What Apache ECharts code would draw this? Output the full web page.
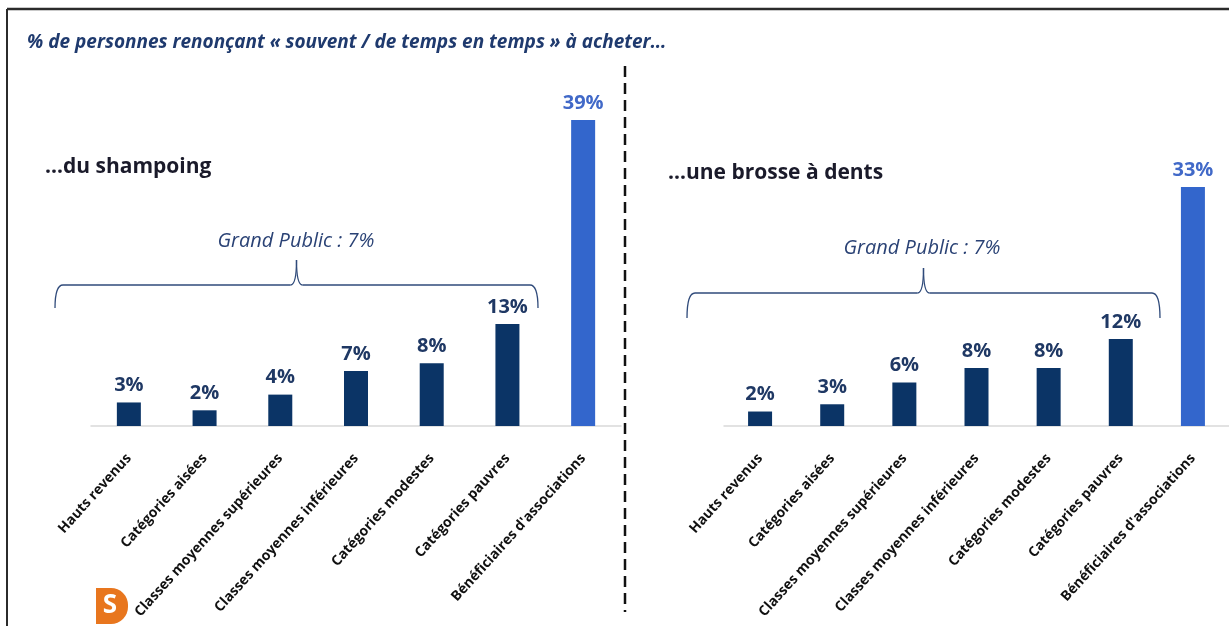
<!DOCTYPE html>
<html>
<head>
<meta charset="utf-8">
<script src="https://cdn.jsdelivr.net/npm/echarts@6/dist/echarts.min.js"></script>
<style>
  html, body { margin: 0; padding: 0; background: #fff; }
  #myEcharts { width: 1229px; height: 626px; }
</style>
</head>
<body>
<div id="myEcharts"></div>
<script>
// categories (same for both panels)
const categories = [
  'Hauts revenus',
  'Catégories aisées',
  'Classes moyennes supérieures',
  'Classes moyennes inférieures',
  'Catégories modestes',
  'Catégories pauvres',
  "Bénéficiaires d'associations"
];
// % renonçant à acheter
const shampoing = [3, 2, 4, 7, 8, 13, 39];
const brosse = [2, 3, 6, 8, 8, 12, 33];
const highlightIdx = 6;

const NAVY = '#0b3466';
const BLUE = '#3366cc';
const LABEL_NAVY = '#1f3864';
const LABEL_BLUE = '#4169c8';
const FONT = '"Open Sans"';

var chartDom = document.getElementById('myEcharts');
var myChart = echarts.init(chartDom);

function barData(values) {
  return values.map(function (v, i) {
    var hi = i === highlightIdx;
    return {
      value: v,
      itemStyle: { color: hi ? BLUE : NAVY },
      label: { color: hi ? LABEL_BLUE : LABEL_NAVY }
    };
  });
}

// accolade horizontale : 4 courbes + 2 segments
function brace(x1, x2, yBar, yEnd, yTip) {
  var xm = (x1 + x2) / 2;
  var st = { stroke: '#2f4a7a', lineWidth: 1.3, fill: null };
  var q = function (ax, ay, bx, by, cx, cy) {
    return { type: 'bezierCurve', shape: { x1: ax, y1: ay, x2: bx, y2: by, cpx1: cx, cpy1: cy }, style: st };
  };
  var l = function (ax, ay, bx, by) {
    return { type: 'line', shape: { x1: ax, y1: ay, x2: bx, y2: by }, style: st };
  };
  return [
    q(x1, yEnd, x1 + 8, yBar, x1, yBar),
    l(x1 + 8, yBar, xm - 6, yBar),
    q(xm - 6, yBar, xm, yTip, xm, yBar),
    q(xm, yTip, xm + 6, yBar, xm, yBar),
    l(xm + 6, yBar, x2 - 8, yBar),
    q(x2 - 8, yBar, x2, yEnd, x2, yBar)
  ];
}

var xAxisBase = {
  type: 'category',
  data: categories,
  axisTick: { show: false },
  axisLine: { lineStyle: { color: '#d9d9d9', width: 1.5 } },
  axisLabel: {
    rotate: 48,
    interval: 0,
    margin: 30,
    color: '#111',
    fontFamily: FONT,
    fontWeight: 'bold',
    fontSize: 14
  }
};

var seriesBase = {
  type: 'bar',
  barWidth: 24,
  label: {
    show: true,
    position: 'top',
    distance: 7,
    formatter: '{c}%',
    fontFamily: FONT,
    fontWeight: 'bold',
    fontSize: 20
  }
};

var graphics = [
  // cadre
  { type: 'line', shape: { x1: 7, y1: 9, x2: 1229, y2: 9 }, style: { stroke: '#2b2b2b', lineWidth: 2.5 } },
  { type: 'line', shape: { x1: 7, y1: 9, x2: 7, y2: 626 }, style: { stroke: '#2b2b2b', lineWidth: 2 } },
  // titre
  {
    type: 'text', x: 27, y: 43,
    style: {
      text: '% de personnes renonçant « souvent / de temps en temps » à acheter…',
      fill: '#1f3a6e', font: 'italic bold 19px ' + FONT, verticalAlign: 'middle'
    }
  },
  // séparateur
  { type: 'line', shape: { x1: 625, y1: 66, x2: 625, y2: 612 }, style: { stroke: '#111', lineWidth: 2.5, lineDash: [11, 6] } },
  // sous-titres
  { type: 'text', x: 45, y: 167, style: { text: '…du shampoing', fill: '#1a1a2a', font: 'bold 21px ' + FONT, verticalAlign: 'middle' } },
  { type: 'text', x: 668, y: 173, style: { text: '…une brosse à dents', fill: '#1a1a2a', font: 'bold 21px ' + FONT, verticalAlign: 'middle' } },
  // Grand Public
  { type: 'text', x: 296, y: 241, style: { text: 'Grand Public : 7%', fill: '#2a4275', font: 'italic 20px ' + FONT, align: 'center', verticalAlign: 'middle' } },
  { type: 'text', x: 922, y: 248, style: { text: 'Grand Public : 7%', fill: '#2a4275', font: 'italic 20px ' + FONT, align: 'center', verticalAlign: 'middle' } },
  // logo
  { type: 'rect', shape: { x: 96, y: 588, width: 32, height: 36, r: [0, 17, 17, 0] }, style: { fill: '#e8761e' } },
  { type: 'text', x: 110, y: 606, style: { text: 'S', fill: '#fff', font: 'bold 26px ' + FONT, align: 'center', verticalAlign: 'middle' } }
].concat(brace(55, 538, 285, 308, 260), brace(687, 1160, 293, 318, 268));

var option = {
  animation: false,
  backgroundColor: '#fff',
  grid: [
    { left: 91, width: 530, top: 120, height: 306 },
    { left: 724, width: 518, top: 187, height: 239 }
  ],
  xAxis: [
    Object.assign({ gridIndex: 0 }, xAxisBase),
    Object.assign({ gridIndex: 1 }, xAxisBase)
  ],
  yAxis: [
    { type: 'value', gridIndex: 0, min: 0, max: 39, show: false },
    { type: 'value', gridIndex: 1, min: 0, max: 33, show: false }
  ],
  series: [
    Object.assign({}, seriesBase, { xAxisIndex: 0, yAxisIndex: 0, data: barData(shampoing) }),
    Object.assign({}, seriesBase, { xAxisIndex: 1, yAxisIndex: 1, data: barData(brosse) })
  ],
  graphic: graphics
};

option && myChart.setOption(option);

window.onresize = function () {
  myChart.resize();
};
</script>
</body>
</html>
